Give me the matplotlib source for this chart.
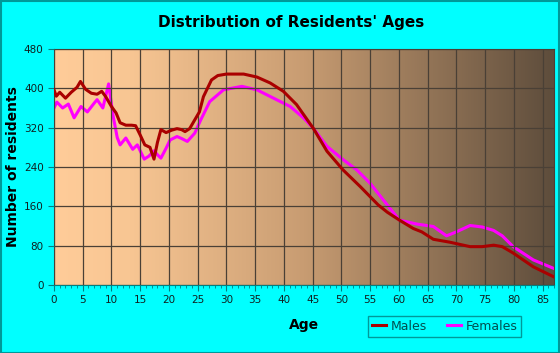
import numpy as np
import matplotlib.pyplot as plt
from matplotlib.colors import LinearSegmentedColormap
from matplotlib.patches import Rectangle

# values
male_age = [0, 0.4, 1, 2, 3, 4, 4.6, 5.5, 6.5, 7.5, 8.3, 9, 10, 10.8, 11.5, 12.5, 13.5, 14.2,
            15, 15.8, 16.7, 17.4, 18, 18.6, 19.5, 20.5, 21.4, 22.2, 22.8, 23.6, 24.5, 25.3, 26,
            27.4, 28.5, 30, 33, 35.3, 37.6, 39.9, 42.2, 45.1, 47.5, 50.3, 53.3, 56.4, 58,
            60.1, 62.5, 64, 66, 68.9, 72.4, 74.5, 76.5, 78, 79.9, 83.4, 86.9]
male_val = [397, 384, 392, 380, 392, 402, 414, 398, 390, 388, 394, 383, 363, 350, 330, 325, 325, 324,
            305, 285, 280, 256, 290, 316, 310, 315, 318, 316, 312, 318, 336, 352, 383,
            417, 426, 429, 429, 423, 411, 394, 367, 319, 272, 234, 200, 163, 148,
            132, 115, 108, 93, 87, 78, 78, 81, 78, 65, 37, 17]

female_age = [0, 0.5, 1.5, 2.5, 3.5, 4.7, 5.8, 7, 7.5, 8.5, 9.5, 10.3, 11, 11.5, 12.5, 13.7,
              14.5, 15.7, 16.5, 17.4, 18, 18.6, 19.5, 20.2, 21.4, 22.2, 23.2, 24.5, 25.5, 27.1,
              29.5, 32.7, 35.3, 38.2, 41.1, 43.4, 45.1, 47.5, 50.3, 52.7, 55, 57.3, 60.1,
              63.1, 66, 68.3, 70, 72.4, 74.5, 76.5, 78, 79.9, 83.4, 86.9]
female_val = [360, 372, 360, 368, 340, 363, 352, 370, 377, 360, 409, 343, 300, 285, 299, 276,
              285, 256, 262, 273, 265, 258, 278, 295, 302, 298, 292, 309, 335, 373,
              397, 404, 397, 380, 363, 340, 319, 282, 255, 234, 207, 173, 132,
              124, 119, 100, 108, 121, 118, 111, 100, 78, 51, 34]

x_ticks = list(range(0, 90, 5))
y_ticks = [0, 80, 160, 240, 320, 400, 480]

fig = plt.figure(figsize=(5.6, 3.53), dpi=100)
fig.patch.set_facecolor('#00FFFF')
fig.patches.append(Rectangle((0.001, 0.001), 0.997, 0.996, transform=fig.transFigure,
                             fill=False, edgecolor='#009999', linewidth=1.5))

ax = fig.add_axes([54 / 560, 1 - 285 / 353, 500 / 560, 236 / 353])
ax.set_xlim(0, 87)
ax.set_ylim(0, 480)

# background gradient
cmap = LinearSegmentedColormap.from_list('bg', [(0, '#FFCC99'), (0.15, '#F8C693'),
                                                (0.5, '#C89C72'), (1, '#5E4D3C')])
grad = np.linspace(0, 1, 256).reshape(1, -1)
ax.imshow(grad, cmap=cmap, extent=[0, 87, 0, 480], aspect='auto', zorder=0)

ax.set_xticks(x_ticks)
ax.set_xticks(range(0, 88), minor=True)
ax.set_yticks(y_ticks)
ax.grid(True, color='#4a4036', linewidth=0.9, zorder=1)
ax.set_axisbelow(False)

ax.plot(male_age, male_val, color='#AA0000', linewidth=2.2, label='Males', zorder=3)
ax.plot(female_age, female_val, color='#FF00FF', linewidth=2.2, label='Females', zorder=2)

for s in ['top', 'right']:
    ax.spines[s].set_color('#4a4036')
for s in ['left', 'bottom']:
    ax.spines[s].set_color('#008080')
ax.tick_params(axis='both', colors='#008080', labelcolor='#102020', labelsize=7.5, length=4)
ax.tick_params(axis='x', which='minor', colors='#008080', length=2.5)

ax.set_xlabel('Age', fontsize=10, fontweight='bold', labelpad=9)
ax.set_ylabel('Number of residents', fontsize=10, fontweight='bold', labelpad=3)
fig.text(0.52, 1 - 22 / 353, "Distribution of Residents' Ages", ha='center', va='center',
         fontsize=11, fontweight='bold')

leg = ax.legend(loc='upper left', bbox_to_anchor=(368 / 560, 1 - 316 / 353),
                bbox_transform=fig.transFigure, ncol=2, frameon=True, fancybox=False,
                fontsize=9, handlelength=1.1, handletextpad=0.4, columnspacing=1.6,
                borderpad=0.3, borderaxespad=0)
leg.get_frame().set_facecolor('#00FFFF')
leg.get_frame().set_edgecolor('#008080')
for t in leg.get_texts():
    t.set_color('#005050')

fig.savefig('out.png', dpi=100, facecolor=fig.get_facecolor())
